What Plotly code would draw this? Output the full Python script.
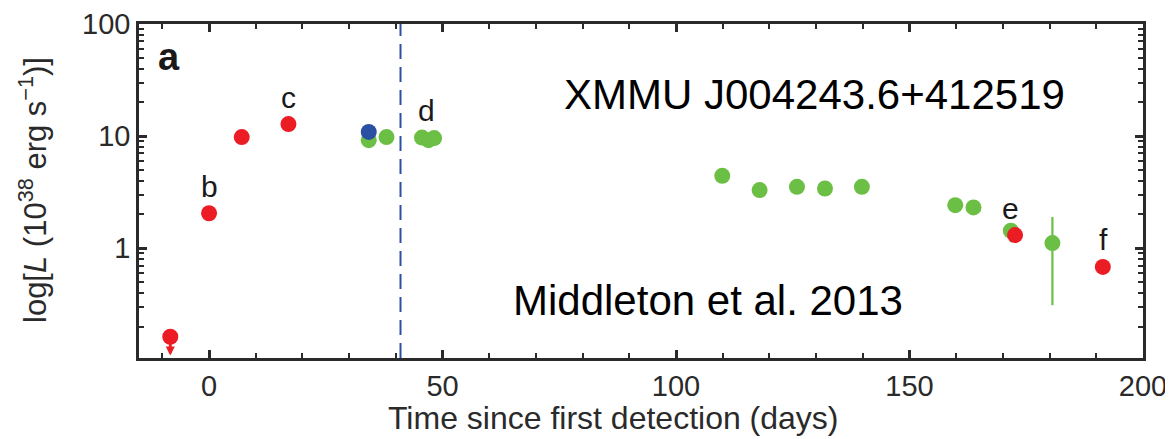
import math
import plotly.graph_objects as go

# Data
red_x = [0, 7, 17, 172.6, 191.4]
red_y = [2.05, 9.8, 12.8, 1.31, 0.68]
ul_x = [-8.3]
ul_y = [0.162]
blue_x = [34.2]
blue_y = [10.9]
green_x = [34.2, 38.0, 45.6, 47.0, 48.2, 109.9, 117.9, 125.9, 131.9, 139.8, 159.8, 163.7, 171.7, 180.6]
green_y = [9.2, 9.8, 9.7, 9.2, 9.6, 4.42, 3.3, 3.53, 3.41, 3.53, 2.42, 2.31, 1.43, 1.11]
green_err_plus = [0, 0, 0, 0, 0, 0, 0, 0, 0, 0, 0, 0, 0, 0.79]
green_err_minus = [0, 0, 0, 0, 0, 0, 0, 0, 0, 0, 0.3, 0.3, 0.3, 0.80]
dashed_x = 41
labels = ["b", "c", "d", "e", "f"]
label_x = [0, 17, 46.6, 171.6, 191.6]
label_y = [2.05, 12.8, 9.7, 1.31, 0.68]
xticks = [0, 50, 100, 150, 200]
yticks = [1, 10, 100]

RED = "#ec1c24"
GREEN = "#6cbf45"
BLUE = "#2b4fa3"
AX = "#2a2a2a"
FONT = "Liberation Sans, Arial, sans-serif"

# page has an 8px body margin; figure is sized so that it fills the window
OFF = 8
W, H = 1173 - OFF, 439 - OFF
L, T = 139 - OFF, 24 - OFF
R, B = 30, 81
pw, ph = W - L - R, H - T - B

fig = go.Figure()

fig.add_shape(type="line", x0=dashed_x, x1=dashed_x, y0=0, y1=1, yref="paper",
              line=dict(color=BLUE, width=2, dash="15px,8px"), layer="below")

fig.add_trace(go.Scatter(
    x=green_x, y=green_y, mode="markers",
    marker=dict(color=GREEN, size=16, line=dict(width=0)),
    error_y=dict(type="data", symmetric=False, array=green_err_plus,
                 arrayminus=green_err_minus, color=GREEN, thickness=2.2, width=0),
    showlegend=False))
fig.add_trace(go.Scatter(
    x=red_x, y=red_y, mode="markers",
    marker=dict(color=RED, size=16, line=dict(width=0)), showlegend=False))
fig.add_trace(go.Scatter(
    x=blue_x, y=blue_y, mode="markers",
    marker=dict(color=BLUE, size=16, line=dict(width=0)), showlegend=False))
fig.add_trace(go.Scatter(
    x=ul_x, y=ul_y, mode="markers",
    marker=dict(color=RED, size=16, line=dict(width=0)), showlegend=False))

annotations = []
for xv, yv in zip(ul_x, ul_y):
    annotations.append(dict(x=xv, y=math.log10(yv / 1.47), xref="x", yref="y",
                            ax=xv, ay=math.log10(yv), axref="x", ayref="y",
                            showarrow=True, arrowhead=2, arrowsize=0.65, arrowwidth=2.8,
                            arrowcolor=RED, text=""))
for t, xv, yv in zip(labels, label_x, label_y):
    annotations.append(dict(x=xv, y=math.log10(yv), xref="x", yref="y", text=t,
                            showarrow=False, yshift=27, yanchor="middle",
                            font=dict(family=FONT, size=30, color="#1a1a1a")))
# texts positioned in page pixels
pix = [
    dict(x=169, y=57, text="<b>a</b>", font=dict(family=FONT, size=38, color="#1a1a1a")),
    dict(x=814, y=95, text="XMMU J004243.6+412519",
         font=dict(family=FONT, size=42, color="black")),
    dict(x=708, y=300, text="Middleton et al. 2013",
         font=dict(family=FONT, size=42, color="black")),
    dict(x=613, y=418, text="Time since first detection (days)",
         font=dict(family=FONT, size=32, color=AX)),
    dict(x=33, y=190, text="log[<i>L</i> (10<sup>38</sup> erg s<sup>−1</sup>)]",
         textangle=-90, font=dict(family=FONT, size=31, color=AX)),
]
for a in pix:
    a.update(xref="paper", yref="paper", showarrow=False,
             x=(a["x"] - OFF - L) / pw, y=(H - B - (a["y"] - OFF)) / ph,
             xanchor="center", yanchor="middle")
    annotations.append(a)

axis_common = dict(showline=True, linecolor=AX, linewidth=2.5, mirror="ticks",
                   ticks="inside", tickcolor=AX, tickwidth=2.5, ticklen=8,
                   showgrid=False, zeroline=False, automargin=False,
                   ticklabeloverflow="allow",
                   tickfont=dict(family=FONT, size=29, color=AX))

fig.update_xaxes(range=[-15, 200], tickvals=xticks,
                 minor=dict(tickvals=[v for v in range(-10, 200, 10) if v % 50 != 0],
                            ticks="inside", ticklen=5, tickcolor=AX, tickwidth=2),
                 **axis_common)
fig.update_yaxes(type="log", range=[-0.98, 2.0005], tickvals=yticks,
                 ticktext=[str(v) for v in yticks],
                 minor=dict(tickvals=[m * d for d in [0.1, 1, 10] for m in range(2, 10)],
                            ticks="inside", ticklen=5, tickcolor=AX, tickwidth=2),
                 **axis_common)

fig.update_layout(width=W, height=H, margin=dict(l=L, r=R, t=T, b=B),
                  plot_bgcolor="white", paper_bgcolor="white",
                  annotations=annotations, font=dict(family=FONT))

fig.write_html("out.html")
